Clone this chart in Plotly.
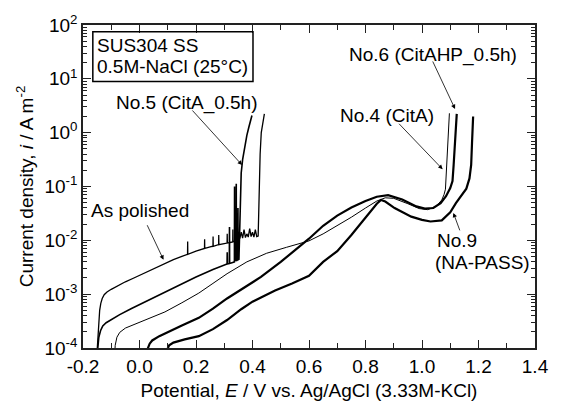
import plotly.graph_objects as go

# ---------------- data (potential in V, current density as log10(i / A m-2)) ----------------
asp_E = [-0.153, -0.149, -0.145, -0.141, -0.137, -0.132, -0.125, -0.115, -0.100, -0.080, -0.050, -0.020,
         0.000, 0.040, 0.080, 0.120, 0.150, 0.170, 0.1705, 0.171, 0.200, 0.230, 0.2305, 0.231, 0.250,
         0.260, 0.2605, 0.261, 0.280, 0.2805, 0.281, 0.300, 0.310, 0.3105, 0.311, 0.320, 0.330, 0.3305,
         0.331, 0.340, 0.350, 0.355, 0.360, 0.365, 0.370, 0.375, 0.380, 0.385, 0.390, 0.395, 0.400,
         0.405, 0.410, 0.415, 0.420, 0.422, 0.424, 0.427, 0.431, 0.436, 0.442]
asp_logi = [-4.3, -3.9, -3.55, -3.3, -3.17, -3.08, -3.01, -2.96, -2.91, -2.85, -2.77, -2.70,
            -2.65, -2.55, -2.45, -2.36, -2.30, -2.26, -2.02, -2.26, -2.20, -2.15, -1.98, -2.15, -2.12,
            -2.11, -1.93, -2.11, -2.08, -1.90, -2.08, -2.06, -2.05, -1.88, -2.05, -2.04, -2.03, -1.80,
            -2.03, -2.00, -1.92, -1.97, -1.85, -1.96, -1.80, -1.95, -1.88, -1.94, -1.78, -1.93, -1.85,
            -1.94, -1.80, -1.93, -1.92, -1.50, -0.90, -0.40, 0.00, 0.20, 0.35]

no5_E = [-0.153, -0.149, -0.144, -0.138, -0.130, -0.118, -0.100, -0.070, -0.030, 0.020, 0.080,
         0.140, 0.200, 0.260, 0.300, 0.310, 0.3105, 0.311, 0.318, 0.3185, 0.319, 0.330, 0.336,
         0.3365, 0.337, 0.342, 0.3425, 0.343, 0.348, 0.3485, 0.349, 0.352, 0.355, 0.357, 0.360,
         0.365, 0.372, 0.380, 0.387, 0.393, 0.398]
no5_logi = [-4.3, -4.0, -3.8, -3.68, -3.59, -3.53, -3.47, -3.38, -3.27, -3.14, -2.99,
            -2.83, -2.68, -2.54, -2.46, -2.44, -2.22, -2.44, -2.43, -1.75, -2.43, -2.41, -2.40,
            -1.00, -2.38, -2.37, -0.95, -2.38, -2.36, -1.40, -2.36, -2.35, -1.50, -1.00, -0.75,
            -0.50, -0.25, -0.05, 0.10, 0.22, 0.32]

no4_E = [-0.090, -0.086, -0.080, -0.070, -0.050, 0.000, 0.050, 0.090, 0.150, 0.210, 0.260, 0.310,
         0.380, 0.450, 0.520, 0.600, 0.650, 0.700, 0.750, 0.800, 0.840, 0.870, 0.900, 0.950, 0.990,
         1.020, 1.050, 1.070, 1.078, 1.083, 1.088, 1.093, 1.097]
no4_logi = [-4.3, -3.95, -3.80, -3.71, -3.63, -3.52, -3.42, -3.33, -3.16, -2.98, -2.80, -2.62,
            -2.40, -2.24, -2.13, -2.01, -1.88, -1.73, -1.57, -1.40, -1.27, -1.21, -1.22, -1.32, -1.41,
            -1.43, -1.37, -1.25, -1.15, -1.05, -0.50, 0.00, 0.36]

no6_E = [0.024, 0.030, 0.036, 0.045, 0.070, 0.100, 0.150, 0.210, 0.260, 0.310, 0.360, 0.430,
         0.500, 0.550, 0.600, 0.650, 0.700, 0.750, 0.800, 0.840, 0.880, 0.930, 0.980, 1.010, 1.040,
         1.066, 1.085, 1.100, 1.108, 1.112, 1.116, 1.120, 1.123]
no6_logi = [-4.3, -4.0, -3.92, -3.86, -3.78, -3.70, -3.58, -3.44, -3.27, -3.08, -2.92, -2.68,
            -2.40, -2.19, -1.97, -1.73, -1.54, -1.39, -1.27, -1.19, -1.16, -1.24, -1.37, -1.41, -1.40,
            -1.31, -1.18, -1.03, -0.90, -0.60, -0.20, 0.10, 0.35]

no9_E = [0.090, 0.096, 0.105, 0.120, 0.160, 0.210, 0.260, 0.310, 0.360, 0.400, 0.430, 0.480,
         0.540, 0.600, 0.650, 0.700, 0.750, 0.800, 0.840, 0.855, 0.870, 0.903, 0.962, 1.000, 1.030,
         1.070, 1.100, 1.120, 1.140, 1.157, 1.168, 1.174, 1.177, 1.181]
no9_logi = [-4.3, -4.05, -3.95, -3.90, -3.84, -3.78, -3.65, -3.48, -3.28, -3.14, -3.06, -2.93,
            -2.80, -2.66, -2.40, -2.20, -1.90, -1.58, -1.32, -1.25, -1.28, -1.40, -1.56, -1.62, -1.65,
            -1.63, -1.48, -1.31, -1.16, -1.04, -0.85, -0.60, -0.20, 0.30]

y_tick_vals = [1e-4, 1e-3, 1e-2, 1e-1, 1e0, 1e1, 1e2]
y_tick_text = ["10<sup>-4</sup>", "10<sup>-3</sup>", "10<sup>-2</sup>", "10<sup>-1</sup>",
               "10<sup>0</sup>", "10<sup>1</sup>", "10<sup>2</sup>"]
x_tick_vals = [-0.2, 0.0, 0.2, 0.4, 0.6, 0.8, 1.0, 1.2, 1.4]
x_tick_text = ["-0.2", "0.0", "0.2", "0.4", "0.6", "0.8", "1.0", "1.2", "1.4"]

# ---------------- figure ----------------
FONT = "Arial, Liberation Sans, Helvetica, sans-serif"
fig = go.Figure()

series = [
    (asp_E, asp_logi, 1.3, "As polished"),
    (no5_E, no5_logi, 1.6, "No.5 (CitA_0.5h)"),
    (no4_E, no4_logi, 1.0, "No.4 (CitA)"),
    (no6_E, no6_logi, 2.2, "No.6 (CitAHP_0.5h)"),
    (no9_E, no9_logi, 2.2, "No.9 (NA-PASS)"),
]
for xs, ls, w, name in series:
    fig.add_trace(go.Scatter(x=xs, y=[10 ** v for v in ls], mode="lines", name=name,
                             line=dict(color="black", width=w), showlegend=False))

minor_y = [k * 10.0 ** n for n in range(-4, 2) for k in range(2, 10)]

fig.update_layout(
    width=561, height=410,
    margin=dict(l=83, r=18, t=17, b=56),
    paper_bgcolor="white", plot_bgcolor="white",
    font=dict(family=FONT, size=19, color="black"),
    xaxis=dict(range=[-0.2, 1.4], tickvals=x_tick_vals, ticktext=x_tick_text,
               ticks="inside", ticklen=8, tickwidth=1.2, tickcolor="#222",
               minor=dict(dtick=0.1, ticks="inside", ticklen=5, tickwidth=1.2, tickcolor="#222"),
               showline=True, linewidth=1.5, linecolor="#222", mirror="allticks",
               showgrid=False, zeroline=False,
               title=dict(text="Potential, <i>E</i> / V vs. Ag/AgCl (3.33M-KCl)",
                          font=dict(size=19), standoff=8)),
    yaxis=dict(type="log", range=[-4, 2], tickvals=y_tick_vals, ticktext=y_tick_text,
               ticks="inside", ticklen=8, tickwidth=1.2, tickcolor="#222",
               minor=dict(tickvals=minor_y, ticks="inside", ticklen=4, tickwidth=1, tickcolor="#222"),
               showline=True, linewidth=1.5, linecolor="#222", mirror="allticks",
               showgrid=False, zeroline=False,
               title=dict(text="Current density, <i>i</i> / A m<sup>-2</sup>",
                          font=dict(size=19), standoff=6)),
)

def label(text, x, y):
    fig.add_annotation(x=x, y=y, xref="x", yref="y", text=text, showarrow=False,
                       xanchor="left", yanchor="middle", font=dict(size=19, family=FONT))

def arrow(x, y, ax, ay):
    fig.add_annotation(x=x, y=y, xref="x", yref="y", text="", showarrow=True,
                       ax=ax, ay=ay, axref="pixel", ayref="pixel",
                       arrowhead=2, arrowsize=1.1, arrowwidth=0.8, arrowcolor="black", standoff=0)

label("SUS304 SS", -0.157, 1.626)
label("0.5M-NaCl (25°C)", -0.157, 1.234)
label("No.5 (CitA_0.5h)", -0.091, 0.558)
label("As polished", -0.178, -1.454)
label("No.4 (CitA)", 0.702, 0.327)
label("No.6 (CitAHP_0.5h)", 0.733, 1.448)
label("No.9", 1.046, -2.006)
label("(NA-PASS)", 1.040, -2.415)

arrow(0.363, -0.60, -51, -56)     # No.5
arrow(0.085, -2.36, -17, -36)     # As polished
arrow(1.073, -0.68, -45, -47)     # No.4
arrow(1.117, 0.44, -23, -49)      # No.6
arrow(1.111, -1.49, 7, 19)        # No.9

fig.add_shape(type="rect", xref="paper", yref="paper",
              x0=10 / 460, x1=173 / 460, y0=(354 - 76) / 337, y1=(354 - 24) / 337,
              line=dict(color="black", width=1.5), fillcolor="rgba(0,0,0,0)")

fig.write_html("out.html")
